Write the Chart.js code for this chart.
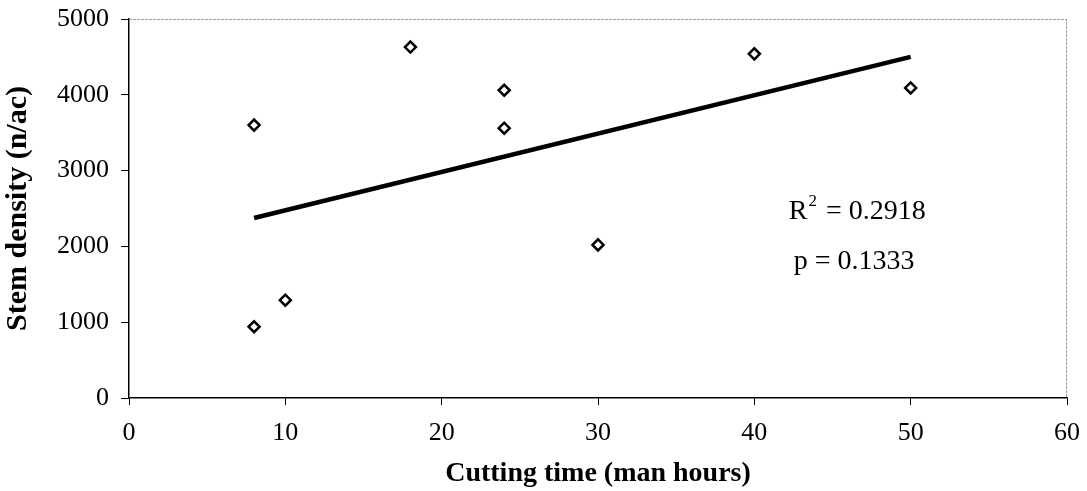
<!DOCTYPE html>
<html>
<head>
<meta charset="utf-8">
<script src="https://cdn.jsdelivr.net/npm/chart.js@4.4.1/dist/chart.umd.min.js"></script>
<style>
  html, body { margin: 0; padding: 0; background: #fff; }
  #wrap { width: 1087px; height: 491px; }
</style>
</head>
<body>
<div id="wrap"><canvas id="c" width="1087" height="491"></canvas></div>
<script>
// Data
const cuttingTime = [8, 8, 10, 18, 24, 24, 30, 40, 50];
const stemDensity = [3600, 940, 1290, 4630, 4060, 3560, 2020, 4540, 4090];
const trendX = [8, 50];
const trendY = [2375, 4500];
const xTicks = [0, 10, 20, 30, 40, 50, 60];
const yTicks = [0, 1000, 2000, 3000, 4000, 5000];
const statLines = ['R\u00B2 = 0.2918', 'p = 0.1333'];
const xTitle = 'Cutting time (man hours)';
const yTitle = 'Stem density (n/ac)';

const SERIF = '"Liberation Serif", "Times New Roman", serif';

const scatterData = cuttingTime.map((x, i) => ({ x: x, y: stemDensity[i] }));
const trendData = trendX.map((x, i) => ({ x: x, y: trendY[i] }));

const framePlugin = {
  id: 'frame',
  afterDatasetsDraw(chart) {
    const { ctx, chartArea: a, scales } = chart;
    ctx.save();
    // top and right border (light gray)
    ctx.strokeStyle = '#9a9a9a';
    ctx.lineWidth = 1;
    ctx.setLineDash([3, 1]);
    ctx.beginPath();
    ctx.moveTo(a.left, a.top + 0.5);
    ctx.lineTo(a.right - 0.5, a.top + 0.5);
    ctx.lineTo(a.right - 0.5, a.bottom);
    ctx.stroke();
    ctx.setLineDash([]);
    // statistics text
    ctx.fillStyle = '#000';
    ctx.textBaseline = 'middle';
    ctx.textAlign = 'left';
    const x0 = scales.x.getPixelForValue(42.2);
    const y1 = scales.y.getPixelForValue(2454);
    const y2 = scales.y.getPixelForValue(1794);
    // R^2 with superscript
    ctx.font = '28px ' + SERIF;
    ctx.fillText('R', x0, y1);
    const wR = ctx.measureText('R').width;
    ctx.font = '17px ' + SERIF;
    ctx.fillText('2', x0 + wR + 1, y1 - 10);
    const w2 = ctx.measureText('2').width;
    ctx.font = '28px ' + SERIF;
    ctx.fillText(statLines[0].slice(2), x0 + wR + w2 + 3, y1);
    ctx.fillText(statLines[1], x0 + 5, y2);
    ctx.restore();
  }
};

new Chart(document.getElementById('c'), {
  type: 'scatter',
  data: {
    datasets: [
      {
        label: 'Stem density',
        data: scatterData,
        pointStyle: 'rectRot',
        pointRadius: 5.5,
        pointHoverRadius: 5.5,
        pointBorderWidth: 2.5,
        pointBorderColor: '#000',
        pointBackgroundColor: '#fff',
        showLine: false,
        order: 1
      },
      {
        label: 'Trend',
        data: trendData,
        showLine: true,
        borderColor: '#000',
        borderWidth: 4.5,
        pointRadius: 0,
        fill: false,
        order: 2
      }
    ]
  },
  options: {
    responsive: false,
    animation: false,
    events: [],
    layout: { padding: { top: 19, right: 20, left: 0, bottom: 0 } },
    plugins: {
      legend: { display: false },
      tooltip: { enabled: false }
    },
    scales: {
      x: {
        type: 'linear',
        min: 0, max: 60,
        afterBuildTicks: (s) => { s.ticks = xTicks.map(v => ({ value: v })); },
        afterFit: (s) => { s.height = 93; s.paddingLeft = 0; s.paddingRight = 0; },
        ticks: {
          color: '#000',
          font: { family: SERIF, size: 26 },
          padding: 13,
          callback: (v) => String(v)
        },
        grid: {
          drawOnChartArea: false,
          drawTicks: true,
          tickLength: 7,
          color: '#000',
          lineWidth: 1
        },
        border: { color: '#000', width: 1.5 },
        title: {
          display: true,
          text: xTitle,
          color: '#000',
          font: { family: SERIF, size: 28, weight: 'bold' },
          padding: { top: 0, bottom: 0 }
        }
      },
      y: {
        type: 'linear',
        min: 0, max: 5000,
        afterBuildTicks: (s) => { s.ticks = yTicks.map(v => ({ value: v })); },
        afterFit: (s) => { s.width = 129; s.paddingTop = 0; s.paddingBottom = 0; },
        ticks: {
          color: '#000',
          font: { family: SERIF, size: 26 },
          padding: 12,
          callback: (v) => String(v)
        },
        grid: {
          drawOnChartArea: false,
          drawTicks: true,
          tickLength: 8,
          color: '#000',
          lineWidth: 1
        },
        border: { color: '#000', width: 1.5 },
        title: {
          display: true,
          text: yTitle,
          color: '#000',
          font: { family: SERIF, size: 30, weight: 'bold' },
          padding: { top: 0, bottom: 0 }
        }
      }
    }
  },
  plugins: [framePlugin]
});
</script>
</body>
</html>
